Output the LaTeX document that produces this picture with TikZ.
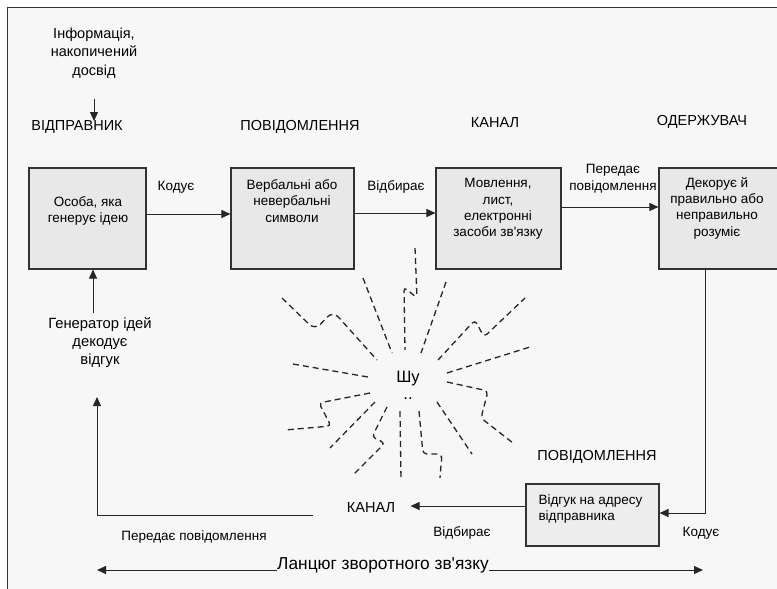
\documentclass[tikz,border=0pt]{standalone}
\usepackage{fontspec}
\setmainfont{Liberation Sans}[Ligatures=TeXOff]
\usetikzlibrary{arrows.meta,positioning,calc}

\begin{document}
\begin{tikzpicture}[x=1pt,y=-1pt,
    box/.style={draw=black!80, line width=1.1pt, fill=black!9, inner sep=0pt},
    boxtext/.style={align=center, font=\fontsize{13.5}{16.3}\selectfont},
    head/.style={font=\fontsize{14.5}{17}\selectfont},
    lbl/.style={align=center, font=\fontsize{13.5}{17}\selectfont},
    arr/.style={draw=black!85, line width=1pt, -{Triangle[length=9pt,width=8pt]}},
    noise/.style={draw=black!85, line width=1.3pt, dash pattern=on 6pt off 4pt, rounded corners=4pt}]

  \useasboundingbox (0,0) rectangle (777,589);
  \fill[black!3] (7,7) rectangle (777,589);
  \draw[black!80, line width=1pt] (7,589) -- (7,7) -- (777,7);

  % top row of boxes
  \node[box, minimum width=117pt, minimum height=101pt] (b1) at (87.5,218.5) {};
  \node[box, minimum width=123pt, minimum height=101pt] (b2) at (292.5,218.5) {};
  \node[box, minimum width=125pt, minimum height=101pt] (b3) at (498.5,218.5) {};
  \node[box, minimum width=120pt, minimum height=101pt] (b4) at (719,218.5) {};
  \node[box, fill=black!7, minimum width=133pt, minimum height=62pt] (b5) at (592.5,515) {};

  \node[boxtext] (t1) at (88,211) {Особа, яка\\генерує ідею};
  \node[boxtext] (t2) at (292,201) {Вербальні або\\невербальні\\символи};
  \node[boxtext] (t3) at (498,209) {Мовлення,\\лист,\\електронні\\засоби зв'язку};
  \node[boxtext] (t4) at (717,208) {Декорує й\\правильно або\\неправильно\\розуміє};
  \node[boxtext, align=left, anchor=west] (t5) at (535,509) {Відгук на адресу\\відправника};

  % headings
  \node[head] (sender) at (77,127) {ВІДПРАВНИК};
  \node[head] (msg) at (300,127) {ПОВІДОМЛЕННЯ};
  \node[head] (chan) at (495,123) {КАНАЛ};
  \node[head] (recv) at (702,122) {ОДЕРЖУВАЧ};
  \node[head] (msg2) at (597,457) {ПОВІДОМЛЕННЯ};
  \node[head] (chan2) at (371,508) {КАНАЛ};

  \node[lbl, font=\fontsize{14.5}{18.5}\selectfont] (info) at (94,53) {Інформація,\\накопичений\\досвід};
  \node[lbl, font=\fontsize{14.8}{18}\selectfont] (gen) at (100,343) {Генератор ідей\\декодує\\відгук};

  % labels on arrows
  \node[lbl] (enc) at (176,187) {Кодує};
  \node[lbl] (sel) at (396,187) {Відбирає};
  \node[lbl] (send) at (613,179) {Передає\\повідомлення};
  \node[lbl] (sel2) at (462,533) {Відбирає};
  \node[lbl] (enc2) at (701,533) {Кодує};
  \node[lbl] (send2) at (194,537) {Передає повідомлення};

  % noise
  \node[font=\fontsize{16.5}{18}\selectfont, inner sep=0pt] (noise) at (408,379) {Шу};
  \node[font=\fontsize{16.5}{18}\selectfont, inner sep=0pt, anchor=base] (dots) at (408,399) {..};
  \draw[noise] (415,248) -- (417,298) -- (404,287) -- (405,350);
  \draw[noise] (363,278) -- (392,353);
  \draw[noise, rounded corners=8pt] (282,298) -- (315,330) -- (333,311) -- (377,360);
  \draw[noise] (293,364) -- (368,377);
  \draw[noise] (370,393) -- (319,403) -- (331,426) -- (285,430);
  \draw[noise] (375,402) -- (330,448);
  \draw[noise] (387,407) -- (372,437) -- (385,443) -- (353,475);
  \draw[noise] (400,411) -- (401,480);
  \draw[noise] (419,411) -- (423,454) -- (442,454) -- (440,478);
  \draw[noise] (437,402) -- (472,454);
  \draw[noise] (447,382) -- (488,391) -- (481,418) -- (513,443);
  \draw[noise] (447,373) -- (530,347);
  \draw[noise] (438,360) -- (475,320) -- (484,337) -- (525,298);
  \draw[noise] (446,282) -- (421,353);

  % forward chain
  \draw[arr] ([yshift=-17pt]info.south) -- ([yshift=-4pt]info.south |- sender.north);
  \draw[arr] ([yshift=4.5pt]b1.east) -- ([yshift=4.5pt]b2.west);
  \draw[arr] ([yshift=5.5pt]b2.east) -- ([yshift=5.5pt]b3.west);
  \draw[arr] ([yshift=11.5pt]b3.east) -- ([yshift=11.5pt]b4.west);

  % feedback chain
  \coordinate (up1) at (93,313);
  \draw[arr] (up1) -- (up1 |- b1.south);
  \draw[arr] ([xshift=-14pt]b4.south) |- ([yshift=2pt]b5.east);
  \draw[arr] ([yshift=9pt]b5.west) -- ([xshift=12pt, yshift=9pt]chan2.east |- b5.west);
  \coordinate (fbstart) at (313,515);
  \coordinate (fbtip) at (97,397);
  \draw[arr] (fbstart) -| (fbtip);

  % bottom span
  \node[font=\fontsize{17.3}{20}\selectfont, inner sep=0pt] (chain) at (383,565) {Ланцюг зворотного зв'язку};
  \coordinate (chainL) at (97,570);
  \coordinate (chainR) at (703,570);
  \draw[arr] (chain.west |- chainL) -- (chainL);
  \draw[arr] (chain.east |- chainR) -- (chainR);
\end{tikzpicture}
\end{document}
